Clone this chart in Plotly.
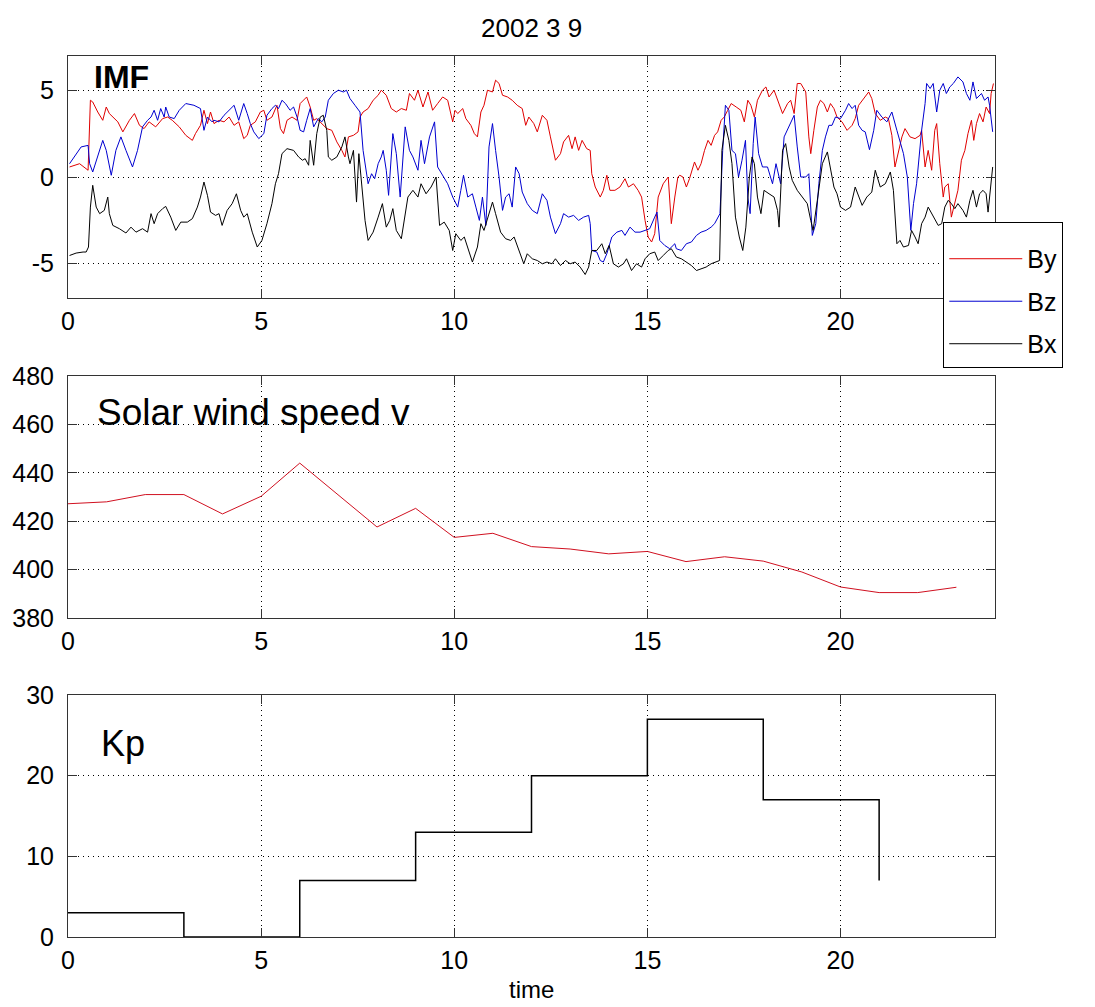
import plotly.graph_objects as go

# ---------------- data ----------------
by_t = [0.04,0.30,0.52,0.58,0.64,0.77,0.90,0.99,1.07,1.16,1.29,1.42,1.59,1.72,1.85,1.97,2.10,2.27,2.45,2.58,2.70,2.88,3.05,3.22,3.30,3.43,3.52,3.61,3.69,
        3.78,3.91,4.04,4.17,4.30,4.42,4.55,4.64,4.72,4.85,4.98,5.07,5.15,5.28,5.41,5.50,5.58,5.67,5.80,5.93,6.01,6.10,6.18,6.27,6.36,6.44,6.53,6.61,6.70,6.83,6.96,7.09,7.17,7.26,7.39,7.51,7.56,7.64,7.77,
        7.90,8.03,8.11,8.24,8.37,8.50,8.63,8.76,8.84,8.97,9.06,9.19,9.32,9.44,9.57,9.70,9.83,9.96,10.02,10.09,10.22,10.30,10.43,10.52,10.60,10.69,10.77,10.86,10.99,11.07,11.16,11.25,11.38,11.50,11.63,11.76,
        11.85,11.93,12.06,12.15,12.28,12.40,12.49,12.62,12.75,12.83,12.96,13.05,13.13,13.22,13.31,13.43,13.52,13.56,13.65,13.78,13.86,13.95,14.03,14.16,14.29,14.42,14.51,14.64,14.76,14.85,14.94,15.02,15.11,15.19,15.28,15.41,15.54,15.62,15.71,15.79,
        15.84,15.92,16.01,16.09,16.22,16.31,16.39,16.48,16.57,16.65,16.74,16.82,16.91,16.99,17.08,17.17,17.30,17.42,17.51,17.60,17.68,17.77,17.85,17.98,18.07,18.15,18.28,18.37,18.50,18.63,18.71,18.80,18.88,18.97,19.10,19.18,19.23,19.31,19.40,19.48,19.57,19.66,19.74,
        19.83,19.91,20.04,20.17,20.30,20.38,20.47,20.60,20.73,20.81,20.90,21.03,21.16,21.24,21.33,21.41,21.50,21.59,21.67,21.80,21.93,22.06,22.10,22.19,22.27,22.36,22.44,22.49,22.57,22.66,22.70,22.79,22.87,22.96,23.04,23.13,23.22,23.30,23.39,23.45,23.52,23.60,23.69,23.77,23.86,23.90,23.96]
by_v = [0.58,0.77,0.39,4.44,4.34,3.76,3.28,4.05,3.67,3.47,3.19,2.61,3.28,3.67,2.99,2.80,3.19,2.90,3.38,3.47,3.28,2.90,2.41,2.12,2.51,2.99,3.86,3.09,3.76,
        3.09,3.28,3.19,3.47,2.99,3.19,2.22,2.41,2.99,3.19,3.76,3.86,3.28,3.47,4.15,2.80,2.51,3.28,3.47,3.28,4.25,4.44,4.63,4.05,3.28,3.38,3.19,2.99,2.80,2.70,2.03,1.54,1.16,2.32,2.41,2.61,3.47,3.76,3.96,
        4.44,4.73,5.02,4.73,3.96,3.76,3.96,3.86,4.83,4.44,5.02,4.05,4.92,3.86,4.25,4.63,4.44,3.19,3.86,3.67,3.96,3.38,2.99,2.51,2.32,3.76,4.15,5.02,4.92,5.60,5.41,4.73,4.63,4.44,4.15,3.96,
        2.99,3.47,3.09,2.61,3.57,3.28,2.32,0.97,1.35,2.03,2.41,1.64,2.32,1.54,2.12,1.64,1.54,0.19,-0.58,-1.16,-0.77,0.10,-0.77,-0.77,-0.58,-0.10,-0.58,-0.39,-0.77,-1.16,-2.51,-3.47,-3.76,-3.28,-1.16,-0.39,0.0,-2.70,-1.16,0.0,
        0.10,0.0,-0.58,-0.10,0.87,0.39,0.77,1.54,2.12,1.83,2.41,2.61,3.28,3.47,3.86,4.25,4.05,3.86,3.19,4.44,4.15,3.47,4.44,5.02,5.21,4.63,5.02,4.44,3.67,4.25,4.44,3.67,5.41,5.41,4.92,2.32,1.35,2.70,4.05,4.44,4.25,3.76,4.25,
        3.96,3.47,3.19,2.70,2.99,3.38,4.15,4.54,4.92,4.54,3.67,3.28,3.47,3.38,2.41,0.58,1.54,2.32,2.80,2.32,2.22,2.41,2.70,0.58,1.54,0.39,2.70,3.09,0.77,-1.16,-0.58,-0.39,-2.32,-1.54,-0.77,0.97,1.54,2.51,3.28,2.12,3.09,3.67,3.19,4.05,3.67,4.83,5.41]

bz_t = [0.04,0.21,0.34,0.52,0.56,0.64,0.73,0.90,0.99,1.12,1.24,1.37,1.50,1.67,1.80,1.93,2.06,2.15,2.23,2.32,2.40,2.49,2.53,2.62,2.75,2.88,3.05,3.26,3.43,3.52,3.61,3.73,
        3.78,3.91,4.04,4.17,4.30,4.42,4.55,4.64,4.72,4.81,4.94,5.07,5.15,5.28,5.37,5.45,5.54,5.63,5.75,5.84,5.93,6.01,6.10,6.18,6.27,6.36,6.48,6.57,6.66,6.74,6.87,7.00,7.13,7.21,7.30,7.43,7.56,7.64,7.77,
        7.86,7.94,8.03,8.11,8.16,8.24,8.30,8.41,8.50,8.60,8.73,8.84,8.93,9.06,9.14,9.23,9.36,9.49,9.57,9.70,9.83,9.96,10.09,10.17,10.24,10.35,10.47,10.56,10.65,10.73,10.82,10.90,10.99,11.07,11.16,11.25,11.33,11.42,11.50,11.59,11.68,11.76,
        11.89,12.02,12.15,12.28,12.40,12.49,12.62,12.75,12.83,12.96,13.09,13.22,13.35,13.48,13.52,13.56,13.69,13.78,13.86,13.95,14.08,14.21,14.34,14.42,14.55,14.68,14.81,14.94,15.06,15.19,15.25,15.32,15.45,15.58,15.71,
        15.75,15.88,16.01,16.14,16.27,16.39,16.52,16.65,16.74,16.82,16.88,16.95,17.02,17.11,17.19,17.28,17.36,17.45,17.54,17.60,17.66,17.74,17.79,17.88,17.98,18.11,18.24,18.33,18.45,18.54,18.67,18.80,18.88,18.97,19.10,19.18,19.27,19.36,19.44,19.53,19.61,19.70,19.78,
        19.87,20.00,20.13,20.21,20.30,20.38,20.47,20.56,20.64,20.75,20.86,20.94,21.07,21.20,21.33,21.46,21.54,21.63,21.73,21.82,21.89,21.97,22.10,22.19,22.23,22.32,22.40,22.49,22.57,22.66,22.74,22.83,22.92,23.04,23.17,23.26,23.35,23.43,23.52,23.65,23.73,23.82,23.86,23.94]
bz_v = [0.77,1.35,1.74,1.83,0.77,0.29,0.97,2.12,1.54,0.10,1.54,2.32,1.54,0.58,1.54,2.90,3.28,3.47,3.86,3.28,3.96,3.47,4.05,3.47,3.38,3.86,4.25,4.15,3.96,2.70,3.47,3.19,
        3.28,3.19,3.57,3.86,4.15,3.28,4.25,3.67,3.09,2.61,2.22,2.51,3.57,3.96,4.15,3.96,4.44,4.25,3.86,4.05,3.47,2.70,2.61,3.28,3.96,2.90,3.38,3.19,3.47,4.44,4.83,5.02,4.92,5.02,4.54,4.15,3.76,1.54,-0.39,
        0.19,-0.10,0.77,1.16,1.54,0.39,-1.06,2.51,1.35,-1.16,2.90,1.54,1.16,0.39,2.12,0.77,2.32,3.19,0.58,0.10,-0.39,-1.16,-1.74,-0.77,0.10,-1.16,-0.97,-1.74,-2.51,-1.16,-2.80,1.74,3.09,1.54,0.0,-1.93,-1.16,-0.97,-1.74,0.58,0.19,-0.87,
        -1.54,-1.93,-2.12,-0.97,-1.35,-2.32,-3.28,-2.70,-2.12,-2.32,-2.22,-2.51,-2.32,-2.22,-2.70,-4.25,-4.34,-4.83,-4.92,-4.44,-3.47,-3.19,-3.09,-3.38,-2.90,-3.19,-3.19,-3.09,-2.99,-2.32,-2.03,-3.67,-3.96,-4.15,-3.86,
        -4.15,-4.25,-3.86,-3.76,-3.38,-3.19,-3.09,-2.90,-2.70,-2.41,-2.12,1.54,4.15,3.86,1.54,1.35,0.0,0.97,2.12,-1.16,-2.12,1.93,3.47,1.35,0.58,0.58,-0.39,0.77,-0.39,2.32,2.90,3.57,1.74,0.0,0.0,0.19,-3.38,-2.70,-0.39,1.54,2.32,2.99,2.99,
        3.47,3.38,3.86,4.25,3.96,4.15,2.99,2.70,2.61,1.58,2.70,3.86,3.47,3.19,3.76,2.70,2.12,1.35,0.0,-3.09,-1.54,-0.39,2.70,4.25,5.41,5.12,5.41,3.76,5.02,5.41,4.83,5.21,5.41,5.79,5.50,4.83,4.44,5.50,4.54,4.83,4.44,4.63,4.15,2.61]

bx_t = [0.04,0.21,0.39,0.47,0.53,0.58,0.64,0.73,0.82,0.94,1.03,1.07,1.16,1.33,1.50,1.63,1.76,1.93,2.06,2.15,2.23,2.32,2.45,2.53,2.66,2.79,2.92,3.09,3.22,3.35,3.43,3.52,3.61,3.69,3.82,
        3.91,3.99,4.12,4.25,4.36,4.47,4.55,4.64,4.77,4.90,5.02,5.15,5.28,5.37,5.45,5.54,5.67,5.84,5.97,6.07,6.14,6.23,6.27,6.36,6.44,6.53,6.61,6.70,6.74,6.83,6.96,7.09,7.17,7.26,7.30,7.39,7.47,7.53,7.60,7.69,7.77,
        7.90,8.03,8.14,8.24,8.33,8.41,8.50,8.63,8.71,8.80,8.93,9.06,9.14,9.27,9.40,9.53,9.62,9.74,9.87,9.96,10.04,10.17,10.26,10.35,10.47,10.60,10.69,10.77,10.90,10.99,11.07,11.20,11.33,11.46,11.55,11.68,11.80,
        11.89,12.02,12.15,12.28,12.40,12.53,12.62,12.75,12.88,13.00,13.13,13.26,13.39,13.48,13.56,13.69,13.82,13.91,14.01,14.12,14.25,14.38,14.46,14.59,14.72,14.85,14.94,15.06,15.19,15.28,15.41,15.54,15.62,15.75,
        15.88,16.01,16.14,16.27,16.39,16.52,16.65,16.78,16.87,16.93,17.02,17.11,17.19,17.28,17.38,17.47,17.55,17.64,17.71,17.77,17.85,17.94,18.02,18.15,18.28,18.37,18.41,18.50,18.58,18.67,18.75,18.88,19.01,19.14,19.23,19.29,19.40,19.53,19.66,19.74,19.83,
        19.91,20.00,20.13,20.26,20.38,20.47,20.56,20.68,20.81,20.90,21.03,21.16,21.29,21.37,21.46,21.54,21.63,21.76,21.84,21.93,22.01,22.10,22.19,22.27,22.36,22.44,22.53,22.62,22.70,22.79,22.87,22.96,23.04,23.17,23.26,23.35,23.43,23.52,23.60,23.69,23.77,23.82,23.88,23.94]
bx_v = [-4.54,-4.40,-4.34,-4.34,-4.05,-1.74,-0.48,-1.74,-2.12,-1.93,-1.16,-2.12,-2.80,-2.99,-3.24,-2.90,-3.19,-2.99,-3.19,-2.12,-2.70,-2.12,-1.83,-1.70,-2.32,-3.09,-2.61,-2.61,-2.41,-1.74,-1.16,-0.29,-1.06,-2.03,-2.22,
        -2.12,-2.80,-1.93,-1.54,-0.97,-1.93,-2.32,-2.12,-3.19,-4.05,-3.67,-2.70,-1.54,-0.39,0.19,1.35,1.64,1.54,1.16,0.97,1.06,0.68,2.12,0.68,2.51,3.47,3.57,2.70,1.16,0.97,1.16,1.74,2.32,1.16,0.77,1.54,-1.45,1.35,-0.39,-2.51,-3.67,
        -3.19,-2.32,-1.54,-2.90,-2.51,-1.83,-3.09,-3.57,-2.51,-1.16,-0.77,-1.16,-0.39,-0.97,-0.58,0.0,-2.80,-2.61,-3.09,-4.25,-3.28,-3.67,-3.47,-4.15,-4.92,-4.05,-2.70,-3.09,-2.12,-1.45,-2.12,-3.19,-3.57,-3.67,-3.47,-4.25,-5.02,
        -4.44,-4.73,-4.83,-5.02,-4.92,-5.02,-4.73,-5.12,-4.83,-5.02,-4.92,-5.21,-5.64,-5.21,-4.25,-4.25,-3.86,-4.44,-3.96,-5.02,-5.21,-5.02,-4.73,-5.41,-5.02,-5.21,-4.73,-4.44,-4.34,-4.83,-4.54,-4.25,-4.15,-4.63,
        -4.73,-4.92,-5.12,-5.41,-5.31,-5.21,-5.02,-4.92,-4.83,1.54,2.99,2.12,0.77,-2.32,-3.47,-4.25,-2.90,0.0,1.16,0.77,-1.16,-2.12,-0.77,-0.97,-1.16,-1.93,-2.90,1.54,1.93,0.58,-0.19,-0.77,-1.16,-1.54,-2.51,-3.09,-1.35,0.77,1.45,0.58,-0.58,
        -0.97,-1.74,-1.93,-1.74,-0.58,-1.16,-1.64,-1.16,-0.87,0.39,-0.58,-0.39,0.29,-0.77,-3.86,-3.67,-4.05,-3.96,-3.09,-3.47,-3.86,-2.70,-2.32,-1.74,-2.12,-2.51,-2.80,-2.70,-1.74,-1.35,-1.54,-1.83,-1.54,-1.93,-2.32,-1.35,-0.77,-1.74,-0.97,-0.77,-0.97,-2.03,-0.77,0.58]

sw_t = list(range(24))
sw_v = [427.2, 428, 431, 431, 423, 430.3, 444, 431, 417.6, 425.3, 413.3, 415, 409.5, 408.5,
        406.5, 407.5, 403.3, 405.3, 403.5, 399, 392.8, 390.5, 390.5, 392.7]

kp_t = [0, 3, 6, 9, 12, 15, 18, 21]
kp_v = [3, 0, 7, 13, 20, 27, 17, 7]

imf_ticks = [-5, 0, 5]
imf_ticklabels = ["-5", "0", "5"]
sw_ticks = [380, 400, 420, 440, 460, 480]
kp_ticks = [0, 10, 20, 30]
time_ticks = [0, 5, 10, 15, 20]

# ---------------- figure ----------------
FONT = "Arial, Liberation Sans, Helvetica, sans-serif"
fig = go.Figure()

fig.add_trace(go.Scatter(x=by_t, y=by_v, mode="lines", name="By", legendgroup="g1",
                         line=dict(color="#e00000", width=1), xaxis="x", yaxis="y"))
fig.add_trace(go.Scatter(x=bz_t, y=bz_v, mode="lines", name="Bz", legendgroup="g2",
                         line=dict(color="#0000d0", width=1), xaxis="x", yaxis="y"))
fig.add_trace(go.Scatter(x=bx_t, y=bx_v, mode="lines", name="Bx", legendgroup="g3",
                         line=dict(color="#000000", width=1), xaxis="x", yaxis="y"))
fig.add_trace(go.Scatter(x=sw_t, y=sw_v, mode="lines", showlegend=False,
                         line=dict(color="#d01020", width=1), xaxis="x2", yaxis="y2"))
fig.add_trace(go.Scatter(x=kp_t, y=kp_v, mode="lines", showlegend=False,
                         line=dict(color="#000000", width=1.5, shape="hv"), xaxis="x3", yaxis="y3"))

axis_common = dict(showline=True, linecolor="#333333", linewidth=1, mirror="allticks",
                   ticks="inside", ticklen=9, tickcolor="#333333", tickwidth=1,
                   showgrid=True, gridcolor="#000000", gridwidth=1, griddash="1px,4px",
                   zeroline=False, tickfont=dict(family=FONT, size=25, color="black"))

doms = {"1": [0.7253, 1.0], "2": [0.3621, 0.6368], "3": [0.0, 0.2747]}

layout = dict(
    width=1095, height=1007,
    margin=dict(l=63, r=100, t=56, b=70),
    paper_bgcolor="white", plot_bgcolor="white",
    font=dict(family=FONT, size=25, color="black"),
    showlegend=True,
    legend=dict(x=0.9442, y=0.8116, xref="paper", yref="paper", xanchor="left", yanchor="top",
                bgcolor="white", bordercolor="black", borderwidth=1,
                font=dict(family=FONT, size=25, color="black"),
                title=dict(text=" ", font=dict(size=10)),
                itemwidth=73, tracegroupgap=7, traceorder="grouped"),
)
for i, (xa, ya) in enumerate([("xaxis", "yaxis"), ("xaxis2", "yaxis2"), ("xaxis3", "yaxis3")], start=1):
    anchor_y = "y" if i == 1 else f"y{i}"
    anchor_x = "x" if i == 1 else f"x{i}"
    layout[xa] = dict(axis_common, range=[0, 24], tickvals=time_ticks, anchor=anchor_y, domain=[0, 1],
                      ticklabelstandoff=1)
    layout[ya] = dict(axis_common, anchor=anchor_x, domain=doms[str(i)], ticklabelstandoff=8)

layout["yaxis"].update(range=[-7, 7], tickvals=imf_ticks, ticktext=imf_ticklabels)
layout["yaxis2"].update(range=[380, 480], tickvals=sw_ticks)
layout["yaxis3"].update(range=[0, 30], tickvals=kp_ticks)

fig.update_layout(**layout)

fig.add_annotation(text="2002 3 9", xref="paper", yref="paper", x=0.5, y=1.032,
                   xanchor="center", yanchor="middle", showarrow=False,
                   font=dict(family=FONT, size=26, color="black"))
fig.add_annotation(text="<b>IMF</b>", xref="x domain", yref="y domain", x=0.026, y=0.913,
                   xanchor="left", yanchor="middle", showarrow=False,
                   font=dict(family=FONT, size=32, color="black"))
fig.add_annotation(text="Solar wind speed v", xref="x2 domain", yref="y2 domain", x=0.029, y=0.85,
                   xanchor="left", yanchor="middle", showarrow=False,
                   font=dict(family=FONT, size=37, color="black"))
fig.add_annotation(text="Kp", xref="x3 domain", yref="y3 domain", x=0.033, y=0.80,
                   xanchor="left", yanchor="middle", showarrow=False,
                   font=dict(family=FONT, size=36, color="black"))
fig.add_annotation(text="time", xref="paper", yref="paper", x=0.5, y=-0.060,
                   xanchor="center", yanchor="middle", showarrow=False,
                   font=dict(family=FONT, size=24, color="black"))

fig.write_html("out.html")
